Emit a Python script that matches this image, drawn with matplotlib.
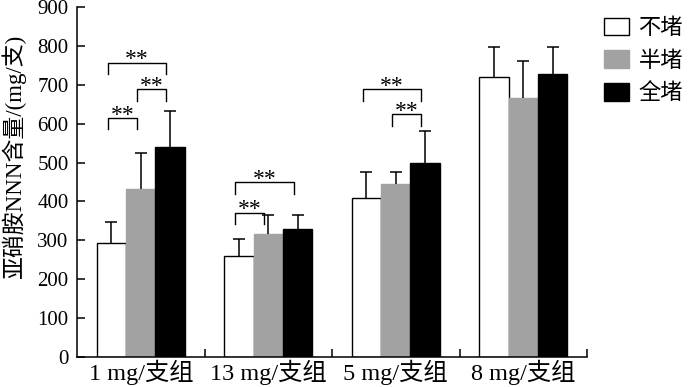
import numpy as np
import matplotlib.pyplot as plt

# 数据
groups = ['1 mg/支组', '13 mg/支组', '5 mg/支组', '8 mg/支组']
series = ['不堵', '半堵', '全堵']
budu = [292, 260, 408, 719]
bandu = [431, 316, 445, 667]
quandu = [541, 329, 500, 727]
budu_err = [56, 43, 67, 79]
bandu_err = [93, 49, 30, 95]
quandu_err = [92, 35, 81, 71]

# 显著性标记: (组, 左柱, 右柱, 括号高度)
sig_pairs = [(0, 0, 1, 615), (0, 1, 2, 689), (0, 0, 2, 757),
             (1, 0, 1, 371), (1, 0, 2, 449),
             (2, 1, 2, 624), (2, 0, 2, 688)]

plt.rcParams['font.family'] = ['Liberation Serif', 'Noto Sans CJK SC']
plt.rcParams['font.size'] = 15

fig = plt.figure(figsize=(7, 3.87), dpi=100)
ax = fig.add_axes([0.11, 0.0775, 0.7286, 0.9045])

x = np.arange(len(groups))
width = 0.23
offsets = [-width, 0, width]
values = [budu, bandu, quandu]
errors = [budu_err, bandu_err, quandu_err]
faces = ['white', '#a2a2a2', 'black']
edges = ['black', '#a2a2a2', 'black']

for i in range(3):
    ax.bar(x + offsets[i], values[i], width, color=faces[i], edgecolor=edges[i],
           linewidth=1.0, label=series[i], zorder=2)
    eb = ax.errorbar(x + offsets[i], values[i], yerr=[np.zeros(len(groups)), errors[i]],
                     fmt='none', ecolor='black', elinewidth=1.1, capsize=4,
                     capthick=1.1, zorder=3)
    # 只保留上方误差线帽
    eb[1][0].set_visible(False)

# 显著性括号
drop = 30
for g, a, b, h in sig_pairs:
    xa = g + offsets[a] - 0.03
    xb = g + offsets[b] - 0.03
    ax.plot([xa, xa, xb, xb], [h - drop, h, h, h - drop], color='black', lw=1.0, zorder=4)
    ax.annotate('**', ((xa + xb) / 2, h), xytext=(0, -2), textcoords='offset points',
                ha='center', va='baseline', fontsize=17)

ax.set_xlim(-0.5, 3.5)
ax.set_ylim(0, 900)
ax.set_yticks(np.arange(0, 901, 100))
ax.set_xticks(x)
ax.set_xticklabels(groups, fontsize=17.5)
ax.set_xticks(np.arange(0.5, 3.6, 1), minor=True)
ax.tick_params(axis='x', which='major', length=0, pad=2)
ax.tick_params(axis='x', which='minor', direction='in', length=6, width=1.1)
ax.tick_params(axis='y', direction='in', length=6, width=1.1, labelsize=15, pad=6)

ax.spines['top'].set_visible(False)
ax.spines['right'].set_visible(False)
ax.spines['left'].set_linewidth(1.1)
ax.spines['bottom'].set_linewidth(1.1)

ax.set_ylabel('亚硝胺NNN含量/(mg/支)', fontsize=16.5)
ax.yaxis.set_label_coords(-0.1, 0.574)

ax.legend(loc='upper left', bbox_to_anchor=(1.016, 0.995), frameon=False,
          handlelength=1.1, handleheight=0.85, handletextpad=0.45,
          labelspacing=0.5, fontsize=16, borderaxespad=0)

plt.savefig('out.png', dpi=100)
